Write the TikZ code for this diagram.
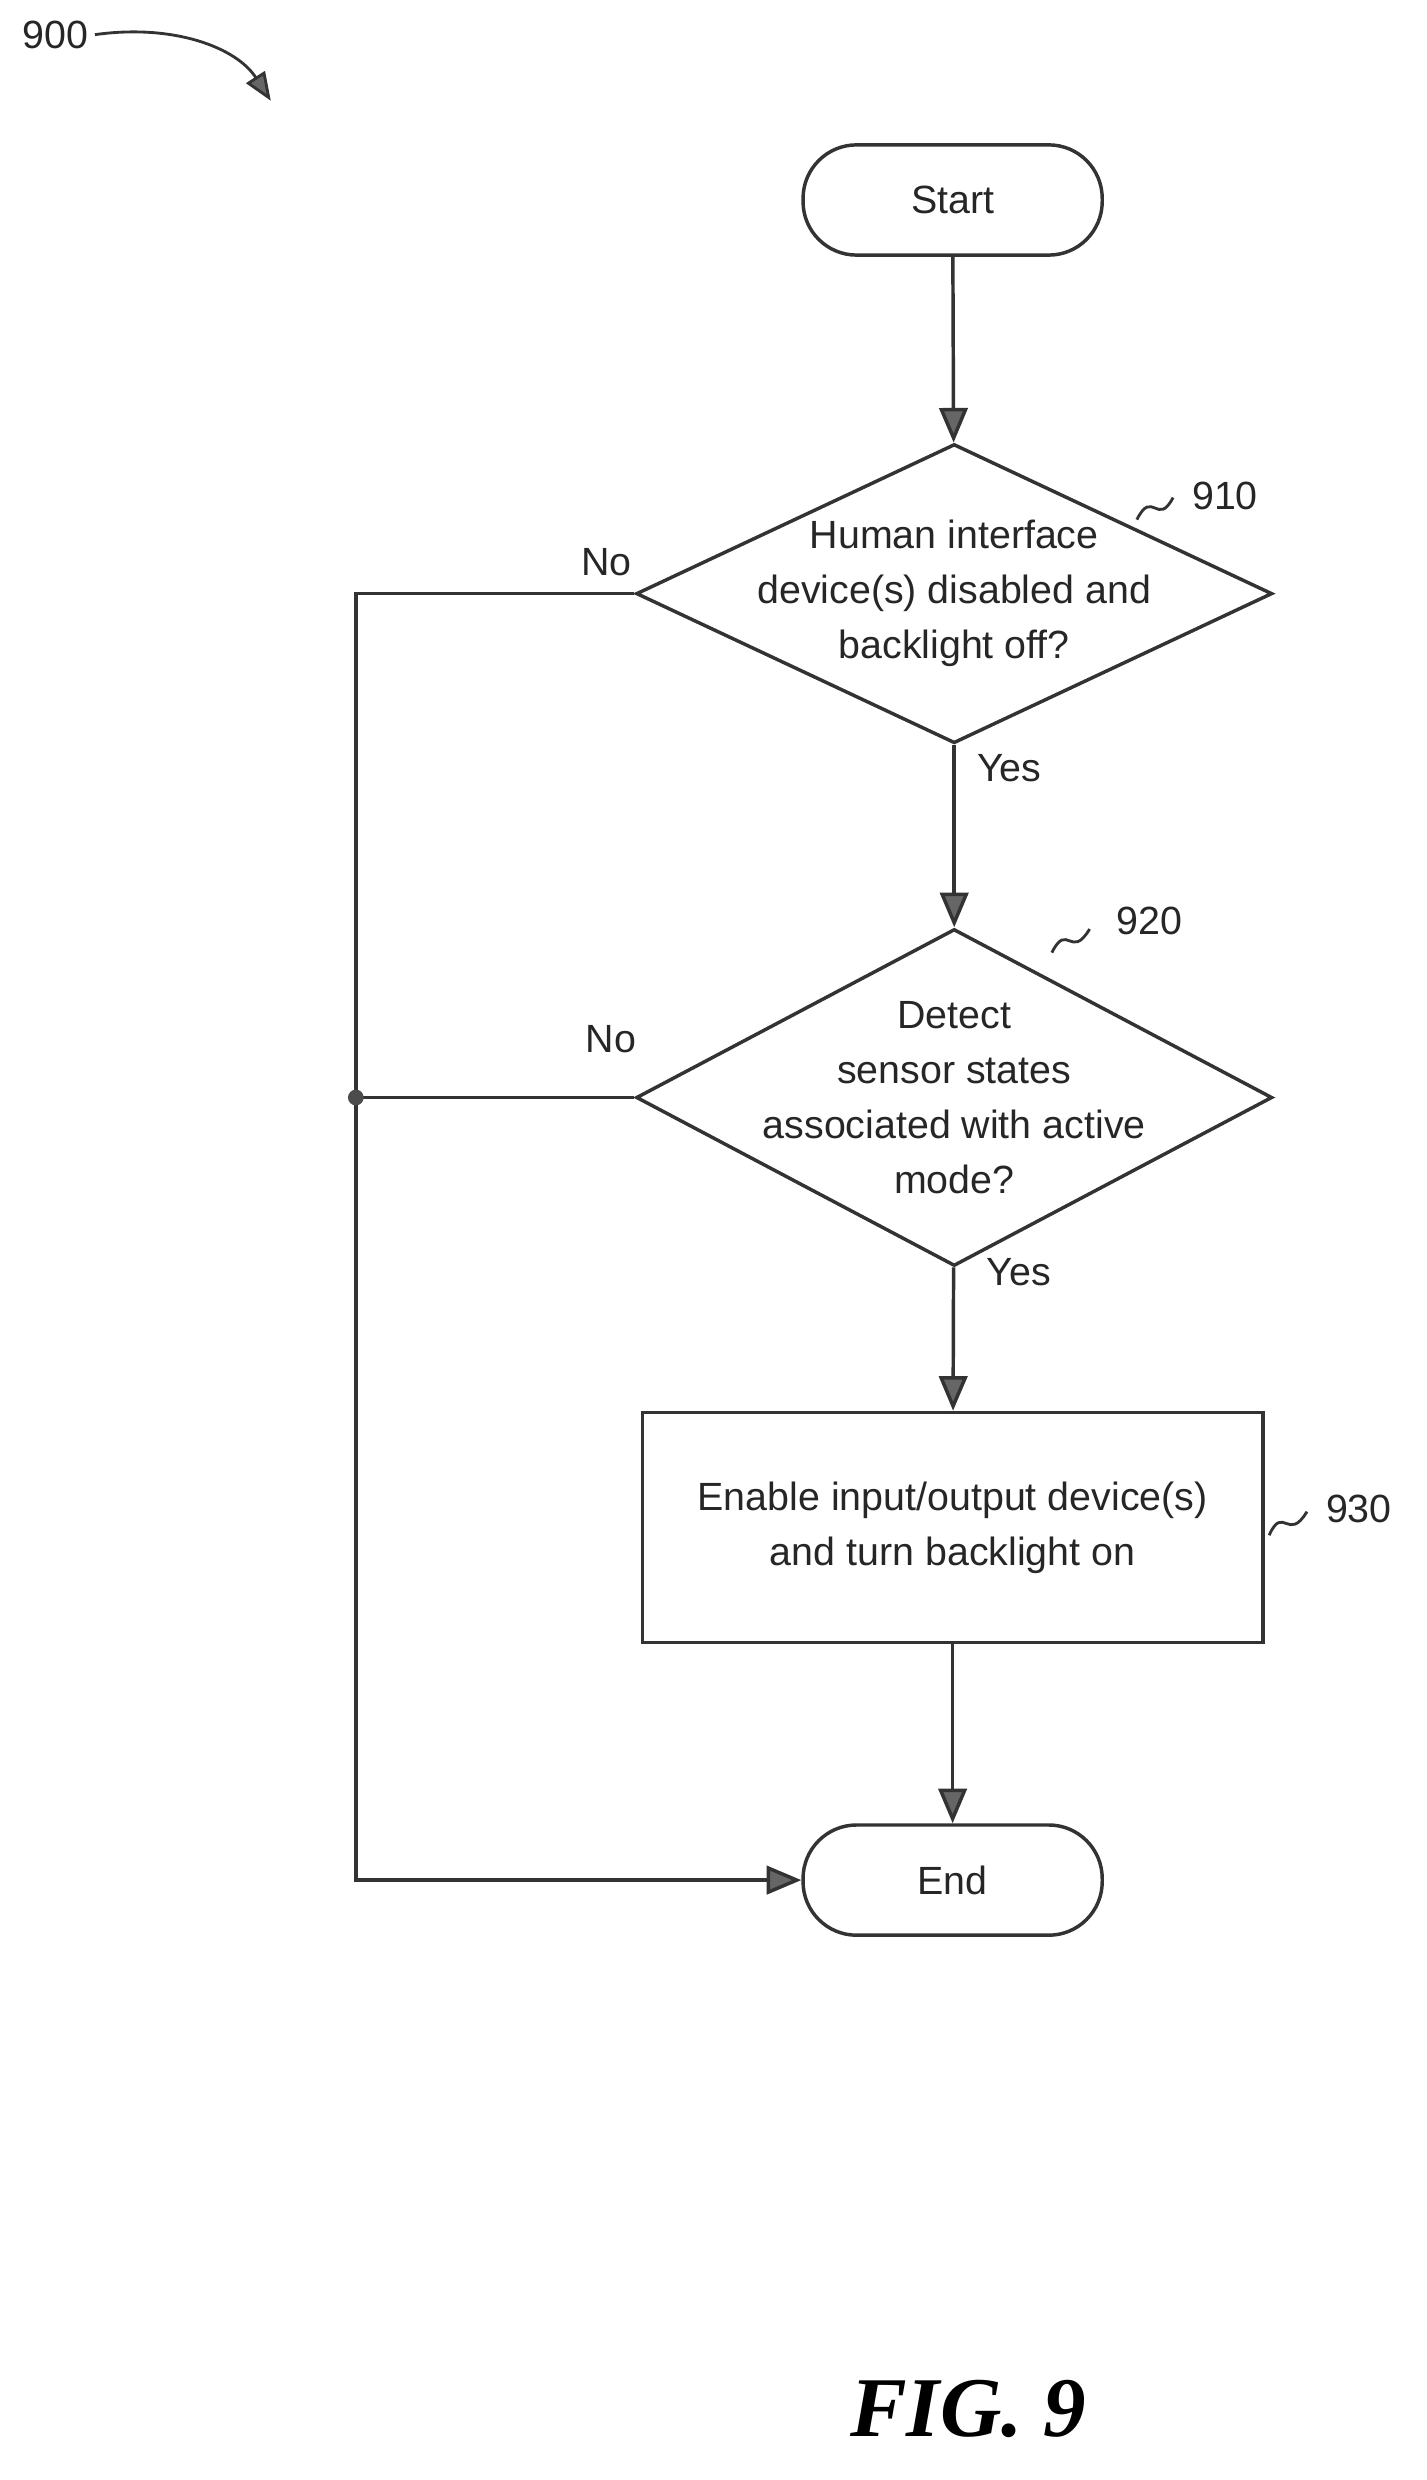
\documentclass[tikz,border=0pt]{standalone}
\usepackage{fontspec}
\setmainfont{Liberation Sans}
\usetikzlibrary{shapes.geometric,arrows.meta}
\begin{document}
\begin{tikzpicture}[x=1pt,y=-1pt,
  line width=2.2pt, draw=black!80,
  arr/.style={-{Triangle[length=22pt,width=18pt,fill=black!60]}},
  txt/.style={font=\fontsize{25}{35}\selectfont, text=black!85},
  term/.style={draw, rounded corners=34pt, minimum width=190pt, minimum height=70pt, txt},
  dec/.style={draw, diamond, aspect=2.1, txt, align=center, inner sep=-60pt, minimum width=404pt, minimum height=190pt},
  squig/.style={line width=1.8pt, draw=black!80}]
\useasboundingbox (0,0) rectangle (906,1575);
\node[term] (start) at (605,127) {Start};
\node[dec] (d1) at (606,377) {Human interface\\device(s) disabled and\\backlight off?};
\node[dec, minimum height=214pt] (d2) at (606,697) {Detect\\sensor states\\associated with active\\mode?};
\node[draw, txt, align=center, minimum width=394pt, minimum height=146pt] (b3) at (605,970) {Enable input/output device(s)\\and turn backlight on};
\node[term] (end) at (605,1194) {End};
\coordinate (c1) at (226,377);
\coordinate (c2) at (226,697);
\coordinate (c3) at (226,1194);
\draw[arr] (start) -- (d1);
\draw[arr] (d1) -- (d2);
\draw[arr] (d2) -- (b3);
\draw[arr] (b3) -- (end);
\draw (d1.west) -- (c1) -- (c2);
\draw[arr] (c2) -- (c3) -- (end.west);
\draw (d2.west) -- (c2);
\fill[black!70] (c2) circle (5pt);
\node[txt] (no1) at (385,357) {No};
\node[txt] (no2) at (388,660) {No};
\node[txt] (y1) at (641,488) {Yes};
\node[txt] (y2) at (647,808) {Yes};
\node[txt] (l910) at (778,315) {910};
\node[txt] (l920) at (730,585) {920};
\node[txt] (l930) at (863,958) {930};
\node[txt] (l900) at (35,22) {900};
\draw[squig] (722,330) .. controls (732,310) and (735,335) .. (745,316);
\draw[squig] (668,605) .. controls (678,585) and (680,610) .. (692,590);
\draw[squig] (806,975) .. controls (815,955) and (818,980) .. (830,960);
\draw[squig, -{Triangle[length=18pt,width=14pt,fill=black!60]}] (l900.east) .. controls (110,15) and (150,30) .. (172,64);
\node[font=\fontsize{54}{60}\selectfont\bfseries\itshape\fontspec{Liberation Serif}] (fig) at (615,1530) {FIG. 9};
\end{tikzpicture}
\end{document}
